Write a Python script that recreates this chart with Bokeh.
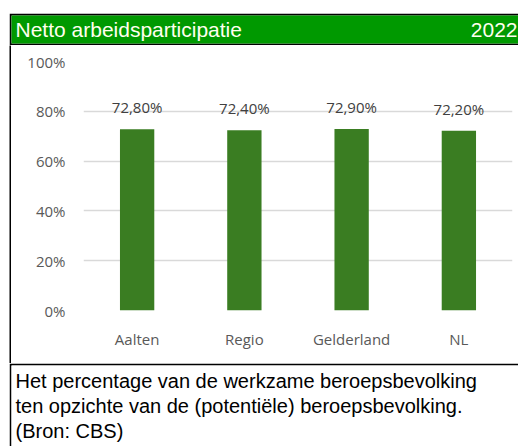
from bokeh.plotting import figure
from bokeh.models import (ColumnDataSource, FactorRange, Range1d, LabelSet,
                          NumeralTickFormatter, FixedTicker, Spacer)
from bokeh.layouts import column, row
from bokeh.core.properties import value
from bokeh.embed import file_html
from bokeh.resources import INLINE

# ---- data ----
title_text = "Netto arbeidsparticipatie"
year_text = "2022"
categories = ["Aalten", "Regio", "Gelderland", "NL"]
values_pct = [72.8, 72.4, 72.9, 72.2]
y_ticks = [0, 0.2, 0.4, 0.6, 0.8, 1.0]
caption_lines = [
    "Het percentage van de werkzame beroepsbevolking",
    "ten opzichte van de (potentiële) beroepsbevolking.",
    "(Bron: CBS)",
]

BAR = "#3A7D22"
HEAD = "#009900"
W = 509          # header / caption width (incl. 2px left border)
WC = 507         # chart width

labels = [f"{v:.2f}%".replace(".", ",") for v in values_pct]
src = ColumnDataSource(dict(cat=categories, val=[v / 100 for v in values_pct], lab=labels))

# ---- header ----
hdr = figure(width=W, height=32, x_range=Range1d(0, W - 2), y_range=Range1d(0, 28),
             toolbar_location=None, output_backend="svg",
             x_axis_location=None, y_axis_location=None,
             min_border_left=2, min_border_right=0, min_border_top=2, min_border_bottom=2)
hdr.frame_align = False
hdr.background_fill_color = HEAD
hdr.border_fill_color = "black"
hdr.outline_line_color = None
hdr.grid.visible = False
hdr.text(x=[4], y=[14], text=[title_text], text_font=value("Liberation Sans"),
         text_font_size="21px", text_color="#FFFFEE", text_baseline="middle", text_align="left")
hdr.text(x=[W - 3], y=[14], text=[year_text], text_font=value("Liberation Sans"),
         text_font_size="21px", text_color="#FFFFEE", text_baseline="middle", text_align="right")

# ---- chart ----
p = figure(width=WC, height=318, x_range=FactorRange(*categories), y_range=Range1d(0, 1),
           toolbar_location=None, output_backend="svg",
           min_border_left=72, min_border_right=6, min_border_top=16, min_border_bottom=53)
p.frame_align = False
p.outline_line_color = None
p.background_fill_color = "white"
p.border_fill_color = "white"
p.vbar(x="cat", top="val", width=0.32, source=src, fill_color=BAR, line_color=None)
p.add_layout(LabelSet(x="cat", y="val", text="lab", source=src, y_offset=22,
                      text_align="center", text_baseline="middle",
                      text_font=value("Open Sans"), text_font_size="15px",
                      text_color="#404040"))
p.yaxis.ticker = FixedTicker(ticks=y_ticks)
p.yaxis.formatter = NumeralTickFormatter(format="0%")
p.yaxis.axis_line_color = None
p.yaxis.major_tick_line_color = None
p.yaxis.minor_tick_line_color = None
p.yaxis.major_tick_out = 0
p.yaxis.major_label_standoff = 18
p.yaxis.major_label_text_font = "Open Sans"
p.yaxis.major_label_text_font_size = "15px"
p.yaxis.major_label_text_color = "#595959"
p.xaxis.axis_line_color = None
p.xaxis.major_tick_line_color = None
p.xaxis.major_tick_out = 0
p.xaxis.major_label_standoff = 18
p.xaxis.major_label_text_font = "Open Sans"
p.xaxis.major_label_text_font_size = "15px"
p.xaxis.major_label_text_color = "#595959"
p.xgrid.visible = False
p.ygrid.grid_line_color = "#D9D9D9"
p.ygrid.grid_line_width = 1.5

# ---- left border of chart area ----
stripe = figure(width=2, height=318, toolbar_location=None, output_backend="svg",
                x_axis_location=None, y_axis_location=None,
                min_border_left=0, min_border_right=0, min_border_top=0, min_border_bottom=0)
stripe.frame_align = False
stripe.background_fill_color = "black"
stripe.border_fill_color = "black"
stripe.outline_line_color = None
stripe.grid.visible = False

# ---- caption ----
cap = figure(width=W, height=83, x_range=Range1d(0, W - 2), y_range=Range1d(81, 0),
             toolbar_location=None, output_backend="svg",
             x_axis_location=None, y_axis_location=None,
             min_border_left=2, min_border_right=0, min_border_top=2, min_border_bottom=0)
cap.frame_align = False
cap.background_fill_color = "white"
cap.border_fill_color = "black"
cap.outline_line_color = None
cap.grid.visible = False
cap.text(x=[4, 4, 4], y=[15, 40, 65], text=caption_lines, text_font=value("Liberation Sans"),
         text_font_size="20px", text_color="#000000", text_baseline="middle", text_align="left")

layout = column(Spacer(height=13, width=518),
                row(Spacer(width=9, height=433),
                    column(hdr, row(stripe, p), cap)))

open("out.html", "w").write(file_html(layout, INLINE))
